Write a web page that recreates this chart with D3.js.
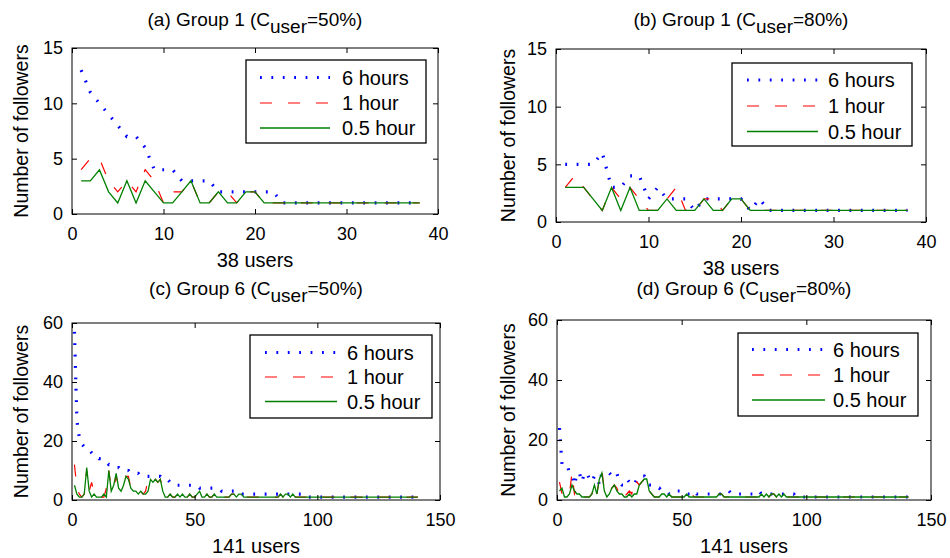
<!DOCTYPE html>
<html><head><meta charset="utf-8">
<script src="https://cdn.jsdelivr.net/npm/d3@7"></script>
<style>
body{margin:0;background:#fff;}
svg text{font-family:"Liberation Sans",Arial,Helvetica,sans-serif;fill:#000;}
</style></head><body>
<svg id="chart" width="950" height="558"></svg>
<script>
// ---------- text ----------
const seriesNames = ["6 hours", "1 hour", "0.5 hour"];
const titlePrefixes = ["(a) Group 1 (C", "(b) Group 1 (C", "(c) Group 6 (C", "(d) Group 6 (C"];
const titleSubscript = "user";
const titleSuffixes = ["=50%)", "=80%)", "=50%)", "=80%)"];
const xLabels = ["38 users", "38 users", "141 users", "141 users"];
const yLabel = "Number of followers";

// ---------- ticks ----------
const xTicksG1 = [0, 10, 20, 30, 40];
const yTicksG1 = [0, 5, 10, 15];
const xTicksG6 = [0, 50, 100, 150];
const yTicksG6 = [0, 20, 40, 60];

// ---------- data: (a) Group 1, Cuser=50%, users 1..38 ----------
const a6h  = [13,11,10,9,8,7,7,6,4,4, 4,3,3,3,3,2,2,2,2,2, 2,2,1,1,1,1,1,1,1,1, 1,1,1,1,1,1,1,1];
const a1h  = [4,5,5,3,2,3,2,4,3,1, 2,2,3,1,1,2,2,1,2,2, 1,1,1,1,1,1,1,1,1,1, 1,1,1,1,1,1,1,1];
const a05h = [3,3,4,2,1,3,1,3,2,1, 1,2,3,1,1,2,1,1,2,2, 1,1,1,1,1,1,1,1,1,1, 1,1,1,1,1,1,1,1];

// ---------- data: (b) Group 1, Cuser=80%, users 1..38 ----------
const b6h  = [5,5,5,5,6,3,3,4,4,2, 3,2,2,2,1,2,2,2,2,2, 1,2,1,1,1,1,1,1,1,1, 1,1,1,1,1,1,1,1];
const b1h  = [3,4,3,2,1,3,2,3,2,1, 1,2,3,1,1,2,2,1,2,2, 1,1,1,1,1,1,1,1,1,1, 1,1,1,1,1,1,1,1];
const b05h = [3,3,3,2,1,3,1,3,1,1, 1,2,1,1,1,2,1,1,2,2, 1,1,1,1,1,1,1,1,1,1, 1,1,1,1,1,1,1,1];

// ---------- data: (c) Group 6, Cuser=50%, users 1..141 ----------
const c6h = [
 57,27,21,19,18,17,17,16,15,15,
 14,14,13,13,12,12,11,11,11,10,
 10,10,10,9,9,9,9,8,8,8,
 8,8,8,8,8,8,7,7,7,6,
 6,5,5,5,5,5,5,5,5,5,
 5,4,4,4,4,4,4,4,4,4,
 3,3,3,3,3,3,3,3,2,2,
 2,2,2,2,2,2,2,2,2,2,
 2,2,2,2,2,2,2,2,2,2,
 2,2,2,2,1,1,1,1,1,1,
 1,1,1,1,1,1,1,1,1,1,
 1,1,1,1,1,1,1,1,1,1,
 1,1,1,1,1,1,1,1,1,1,
 1,1,1,1,1,1,1,1,1,1,
 1];
const c1h = [
 12,4,2,1,2,10,3,6,2,1,
 1,1,1,4,10,4,4,8,5,5,
 5,8,8,4,3,3,3,3,2,3,
 7,6,6,7,6,7,4,2,1,2,
 1,1,2,1,2,1,1,2,1,1,
 2,3,1,1,2,1,1,2,3,1,
 1,1,1,1,2,2,1,2,2,1,
 1,1,1,1,1,1,1,1,1,1,
 1,1,1,1,2,1,2,2,1,2,
 1,1,1,1,1,1,1,1,1,1,
 1,1,1,1,1,1,1,1,1,1,
 1,1,1,1,1,1,1,1,1,1,
 1,1,1,1,1,1,1,1,1,1,
 1,1,1,1,1,1,1,1,1,1,
 1];
const c05h = [
 5,2,1,1,2,11,3,1,2,1,
 1,1,2,1,10,3,5,9,4,3,
 5,8,7,4,3,3,2,3,2,2,
 3,7,6,7,6,7,3,1,1,2,
 1,1,2,1,2,1,1,2,1,1,
 2,3,1,1,2,1,1,2,1,1,
 1,1,1,1,2,2,1,2,2,1,
 1,1,1,1,1,1,1,1,1,1,
 1,1,1,1,2,1,2,2,1,2,
 1,1,1,1,1,1,1,1,1,1,
 1,1,1,1,1,1,1,1,1,1,
 1,1,1,1,1,1,1,1,1,1,
 1,1,1,1,1,1,1,1,1,1,
 1,1,1,1,1,1,1,1,1,1,
 1];

// ---------- data: (d) Group 6, Cuser=80%, users 1..141 ----------
const d6h = [
 24,12,12,12,9,8,5,9,9,6,
 9,9,7,6,8,8,5,9,9,9,
 9,8,9,9,6,5,5,7,6,5,
 5,7,8,8,8,6,5,5,4,4,
 4,3,3,3,2,2,3,3,3,3,
 2,2,2,2,3,2,2,2,2,2,
 2,2,2,2,2,2,2,3,3,2,
 2,2,2,2,2,2,2,2,2,2,
 3,2,2,2,2,2,2,2,2,2,
 2,2,2,2,2,1,1,1,1,1,
 1,1,1,1,1,1,1,1,1,1,
 1,1,1,1,1,1,1,1,1,1,
 1,1,1,1,1,1,1,1,1,1,
 1,1,1,1,1,1,1,1,1,1,
 1];
const d1h = [
 6,2,1,1,2,9,2,4,3,1,
 1,1,1,2,5,2,7,10,3,2,
 3,4,5,4,2,3,1,2,3,2,
 7,6,5,6,7,7,3,2,1,1,
 1,2,2,1,2,1,1,1,1,1,
 1,2,3,2,1,1,1,1,1,1,
 1,1,1,1,2,2,1,1,1,1,
 1,1,1,1,1,1,1,1,1,1,
 1,2,1,2,1,2,2,1,2,1,
 2,1,1,1,1,1,1,1,1,1,
 1,1,1,1,1,1,1,1,1,1,
 1,1,1,1,1,1,1,1,1,1,
 1,1,1,1,1,1,1,1,1,1,
 1,1,1,1,1,1,1,1,1,1,
 1];
const d05h = [
 3,4,1,1,2,5,3,2,2,1,
 1,1,1,2,5,2,7,9,3,1,
 2,4,5,3,2,2,1,1,2,1,
 2,2,5,6,7,7,3,2,1,1,
 1,2,2,1,2,1,1,1,1,1,
 1,2,1,1,1,1,1,1,1,1,
 1,1,1,1,2,2,1,1,1,1,
 1,1,1,1,1,1,1,1,1,1,
 1,2,1,2,1,2,2,1,2,1,
 2,1,1,1,1,1,1,1,1,1,
 1,1,1,1,1,1,1,1,1,1,
 1,1,1,1,1,1,1,1,1,1,
 1,1,1,1,1,1,1,1,1,1,
 1,1,1,1,1,1,1,1,1,1,
 1];

// ---------- styles ----------
const seriesStyles = [
  {color: "#0000ff", width: 3.2, dash: "1.8,9.6"},
  {color: "#ff0000", width: 1.2, dash: "12,16"},
  {color: "#008000", width: 1.3, dash: null}
];

// ---------- layout ----------
const panels = [
  {series: [a6h, a1h, a05h], l: 72,  r: 438, t: 48,  b: 214, xMax: 40,  yMax: 15, xt: xTicksG1, yt: yTicksG1,
   ylx: 28,  leg: {x0: 246, y0: 60,  x1: 426, y1: 143, lx0: 260, lx1: 330, tx: 342, rows: [77.5, 103, 128]}, titleY: 26},
  {series: [b6h, b1h, b05h], l: 556, r: 926, t: 49,  b: 222, xMax: 40,  yMax: 15, xt: xTicksG1, yt: yTicksG1,
   ylx: 515, leg: {x0: 732, y0: 63,  x1: 912, y1: 146, lx0: 747, lx1: 818, tx: 828, rows: [80, 106, 131.5]}, titleY: 26},
  {series: [c6h, c1h, c05h], l: 72,  r: 440, t: 323, b: 500, xMax: 150, yMax: 60, xt: xTicksG6, yt: yTicksG6,
   ylx: 28,  leg: {x0: 250, y0: 335, x1: 432, y1: 418, lx0: 265, lx1: 337, tx: 347, rows: [352.5, 377, 401.5]}, titleY: 295},
  {series: [d6h, d1h, d05h], l: 557, r: 931, t: 320, b: 500, xMax: 150, yMax: 60, xt: xTicksG6, yt: yTicksG6,
   ylx: 515, leg: {x0: 738, y0: 333, x1: 918, y1: 416, lx0: 752, lx1: 825, tx: 833, rows: [349.5, 375, 400]}, titleY: 295}
];

const svg = d3.select("#chart");
svg.append("rect").attr("width", 950).attr("height", 558).attr("fill", "#fff");

panels.forEach((p, pi) => {
  const g = svg.append("g");
  const x = d3.scaleLinear().domain([0, p.xMax]).range([p.l, p.r]);
  const y = d3.scaleLinear().domain([0, p.yMax]).range([p.b, p.t]);

  g.append("rect").attr("x", p.l).attr("y", p.t).attr("width", p.r - p.l).attr("height", p.b - p.t)
    .attr("fill", "#fff");

  // data lines
  const line = d3.line().x((d, i) => x(i + 1)).y(d => y(d));
  p.series.forEach((s, si) => {
    const st = seriesStyles[si];
    g.append("path").datum(s).attr("d", line)
      .attr("fill", "none").attr("stroke", st.color).attr("stroke-width", st.width)
      .attr("stroke-dasharray", st.dash).attr("stroke-linejoin", "miter");
  });

  // axes (ticks inward on all four sides)
  const axStyle = sel => {
    sel.select(".domain").remove();
    sel.selectAll(".tick line").attr("stroke", "#000").attr("stroke-width", 1);
    sel.selectAll("text").style("font-size", "18px").attr("fill", "#000");
  };
  g.append("g").attr("transform", `translate(0,${p.b})`)
    .call(d3.axisBottom(x).tickValues(p.xt).tickFormat(d3.format("d")).tickSizeInner(-5).tickSizeOuter(0).tickPadding(13))
    .call(axStyle);
  g.append("g").attr("transform", `translate(0,${p.t})`)
    .call(d3.axisTop(x).tickValues(p.xt).tickFormat("").tickSizeInner(-5).tickSizeOuter(0))
    .call(axStyle);
  g.append("g").attr("transform", `translate(${p.l},0)`)
    .call(d3.axisLeft(y).tickValues(p.yt).tickFormat(d3.format("d")).tickSizeInner(-5).tickSizeOuter(0).tickPadding(9))
    .call(axStyle);
  g.append("g").attr("transform", `translate(${p.r},0)`)
    .call(d3.axisRight(y).tickValues(p.yt).tickFormat("").tickSizeInner(-5).tickSizeOuter(0))
    .call(axStyle);
  g.selectAll(".tick text").attr("font-family", null);

  g.append("rect").attr("x", p.l).attr("y", p.t).attr("width", p.r - p.l).attr("height", p.b - p.t)
    .attr("fill", "none").attr("stroke", "#000").attr("stroke-width", 1);

  // legend
  const L = p.leg;
  g.append("rect").attr("x", L.x0).attr("y", L.y0).attr("width", L.x1 - L.x0).attr("height", L.y1 - L.y0)
    .attr("fill", "#fff").attr("stroke", "#000").attr("stroke-width", 1.3);
  seriesNames.forEach((nm, si) => {
    const st = seriesStyles[si];
    g.append("line").attr("x1", L.lx0).attr("x2", L.lx1).attr("y1", L.rows[si]).attr("y2", L.rows[si])
      .attr("stroke", st.color).attr("stroke-width", st.width).attr("stroke-dasharray", st.dash);
    g.append("text").attr("x", L.tx).attr("y", L.rows[si] + 7).style("font-size", "20px").text(nm);
  });

  // title with subscript
  const cx = (p.l + p.r) / 2;
  const tt = g.append("text").attr("x", cx).attr("y", p.titleY).attr("text-anchor", "middle").style("font-size", "19px");
  tt.append("tspan").text(titlePrefixes[pi]);
  tt.append("tspan").attr("dy", 7).text(titleSubscript);
  tt.append("tspan").attr("dy", -7).text(titleSuffixes[pi]);

  // axis labels
  g.append("text").attr("x", cx).attr("y", p.b + 53).attr("text-anchor", "middle").style("font-size", "20px").text(xLabels[pi]);
  g.append("text").attr("transform", `translate(${p.ylx},${(p.t + p.b) / 2}) rotate(-90)`)
    .attr("text-anchor", "middle").style("font-size", "19.5px").text(yLabel);
});
</script>
</body></html>
